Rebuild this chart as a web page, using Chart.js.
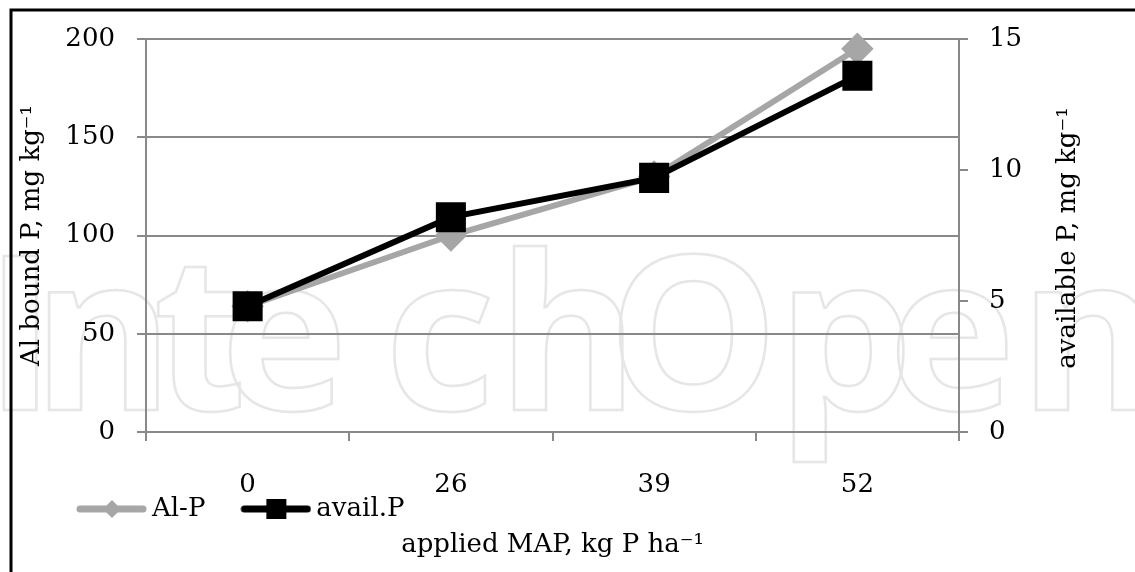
<!DOCTYPE html>
<html>
<head>
<meta charset="utf-8">
<script src="https://cdn.jsdelivr.net/npm/chart.js@4.4.0/dist/chart.umd.min.js"></script>
<style>
body { margin: 0; background: #fff; }
</style>
</head>
<body>
<canvas id="myChart" width="1135" height="572"></canvas>
<script>
// values
var categories = ['0', '26', '39', '52'];
var alP = [64, 100, 130, 195];
var availP = [4.8, 8.2, 9.7, 13.6];
var leftTicks = [0, 50, 100, 150, 200];
var rightTicks = [0, 5, 10, 15];

var serif = "'DejaVu Serif', serif";
var gridGray = '#898989';
var tickFont = { family: serif, size: 26 };

// line + marker icon for the legend (excel style), drawn at the right end of a wider canvas
function legendIcon(color, style) {
	var c = document.createElement('canvas');
	c.width = 114; c.height = 22;
	var g = c.getContext('2d');
	g.translate(43, 0);
	g.strokeStyle = color; g.fillStyle = color;
	g.lineWidth = 7; g.lineCap = 'round';
	g.beginPath(); g.moveTo(4, 11); g.lineTo(67, 11); g.stroke();
	if (style == 'diamond') {
		g.beginPath(); g.moveTo(36, 2); g.lineTo(45, 11); g.lineTo(36, 20); g.lineTo(27, 11); g.closePath(); g.fill();
	} else {
		g.fillRect(26, 1, 20, 20);
	}
	return c;
}
var icons = [legendIcon('#a6a6a6', 'diamond'), legendIcon('#000', 'square')];

// faint publisher watermark behind the plot
var wmLetters = ['I', 'n', 't', 'e', 'c', 'h', 'O', 'p', 'e', 'n'];
var wmCenters = [20, 103, 200, 284, 440, 568, 693, 845, 952, 1090];

var extras = {
	id: 'extras',
	afterLayout: function(chart) {
		chart.legend.left = 41;
	},
	beforeDraw: function(chart) {
		var ctx = chart.ctx;
		ctx.save();
		ctx.font = "bold 215px 'Open Sans'";
		ctx.textAlign = 'center';
		ctx.textBaseline = 'alphabetic';
		ctx.strokeStyle = '#e6e6e6'; ctx.lineWidth = 2.5;
		for (var i = 0; i < wmLetters.length; i++) {
			ctx.strokeText(wmLetters[i], wmCenters[i], 410);
		}
		ctx.restore();
	},
	afterDraw: function(chart) {
		var ctx = chart.ctx;
		ctx.save();
		ctx.translate(1068, 238);
		ctx.rotate(-Math.PI / 2);
		ctx.font = "26px " + serif;
		ctx.fillStyle = '#000';
		ctx.textAlign = 'center'; ctx.textBaseline = 'middle';
		ctx.fillText('available P, mg kg\u207B\u00B9', 0, 0);
		ctx.restore();
		ctx.save();
		ctx.strokeStyle = '#000'; ctx.lineWidth = 3;
		ctx.strokeRect(11, 10, 1300, 800);
		ctx.restore();
	}
};

var ctx = document.getElementById('myChart');
var myChart = new Chart(ctx, {
	type: 'line',
	data: {
		labels: categories,
		datasets: [{
			label: 'Al-P',
			data: alP,
			yAxisID: 'y',
			borderColor: '#a6a6a6',
			backgroundColor: '#a6a6a6',
			borderWidth: 6,
			pointStyle: 'rectRot',
			pointRadius: 12,
			tension: 0,
			clip: false,
			order: 1
		}, {
			label: 'avail.P',
			data: availP,
			yAxisID: 'y1',
			borderColor: '#000',
			backgroundColor: '#000',
			borderWidth: 6,
			pointStyle: 'rect',
			pointRadius: 17,
			tension: 0,
			clip: false,
			order: 0
		}]
	},
	options: {
		responsive: false,
		animation: false,
		layout: { padding: { left: 11, top: 39, right: 0, bottom: 14 } },
		scales: {
			x: {
				offset: true,
				grid: { offset: true, drawOnChartArea: false, tickLength: 9, color: gridGray, lineWidth: 2 },
				border: { color: gridGray, width: 2 },
				ticks: { font: tickFont, color: '#000', padding: 29 },
				afterFit: function(s) { s.height = 64; }
			},
			y: {
				position: 'left',
				min: 0, max: 200,
				afterBuildTicks: function(s) { s.ticks = leftTicks.map(function(v) { return { value: v }; }); },
				grid: { color: gridGray, lineWidth: 2, tickLength: 9 },
				border: { color: gridGray, width: 2 },
				ticks: { font: tickFont, color: '#000', padding: 22 },
				title: { display: true, text: 'Al bound P, mg kg\u207B\u00B9', font: tickFont, color: '#000', padding: { top: 6, bottom: 0 } },
				afterFit: function(s) { s.width = 135; }
			},
			y1: {
				position: 'right',
				min: 0, max: 15,
				afterBuildTicks: function(s) { s.ticks = rightTicks.map(function(v) { return { value: v }; }); },
				grid: { drawOnChartArea: false, color: gridGray, lineWidth: 2, tickLength: 9 },
				border: { color: gridGray, width: 2 },
				ticks: { font: tickFont, color: '#000', padding: 21 },
				afterFit: function(s) { s.width = 176; }
			}
		},
		plugins: {
			legend: {
				position: 'bottom',
				align: 'start',
				labels: {
					usePointStyle: true,
					pointStyleWidth: 98,
					padding: 0,
					color: '#000',
					font: tickFont,
					generateLabels: function(chart) {
						return chart.data.datasets.map(function(ds, i) {
							return { text: ds.label, pointStyle: icons[i], fillStyle: ds.borderColor, strokeStyle: ds.borderColor, lineWidth: 0, hidden: false, datasetIndex: i, fontColor: '#000' };
						});
					}
				}
			},
			title: {
				display: true,
				position: 'bottom',
				fullSize: false,
				text: 'applied MAP, kg P ha\u207B\u00B9',
				color: '#000',
				font: { family: serif, size: 26, weight: 'normal', lineHeight: 1 },
				padding: 0
			},
			tooltip: { enabled: false }
		}
	},
	plugins: [extras]
});
</script>
</body>
</html>
